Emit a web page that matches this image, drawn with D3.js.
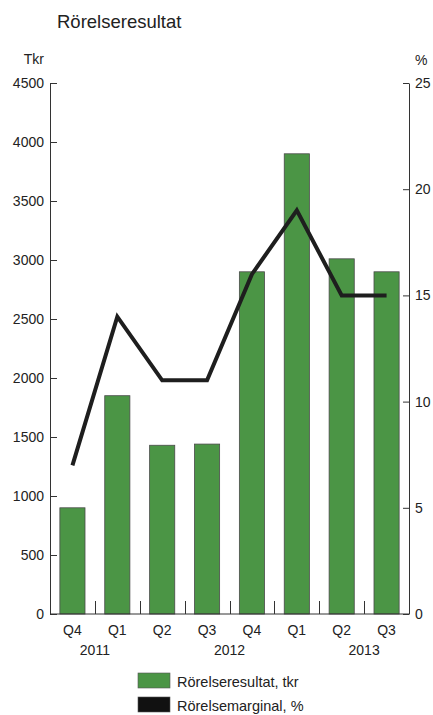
<!DOCTYPE html>
<html>
<head>
  <meta charset="utf-8">
  <title>Rörelseresultat</title>
  <script src="https://d3js.org/d3.v7.min.js"></script>
  <style>
    body { margin: 0; background: #fff; font-family: "Liberation Sans", Arial, sans-serif; }
    svg text { fill: #222; }
    .axis path, .axis line { stroke: #333; }
  </style>
</head>
<body>
<div id="chart"></div>

<script>
// data
const quarters = ["Q4", "Q1", "Q2", "Q3", "Q4", "Q1", "Q2", "Q3"];
const years    = ["2011", "2012", "2012", "2012", "2012", "2013", "2013", "2013"];
const resultat = [900, 1850, 1430, 1440, 2900, 3900, 3010, 2900];   // tkr
const marginal = [7, 14, 11, 11, 16, 19, 15, 15];                     // %
const leftTicks  = [0, 500, 1000, 1500, 2000, 2500, 3000, 3500, 4000, 4500];
const rightTicks = [0, 5, 10, 15, 20, 25];
// year label sits on the boundary in front of this category
const yearLabels = [
  { label: "2011", before: 1 },
  { label: "2012", before: 4 },
  { label: "2013", before: 7 }
];
const legendItems = [
  { label: "Rörelseresultat, tkr", color: "#4b9545" },
  { label: "Rörelsemarginal, %", color: "#111" }
];

const width = 433, height = 715;
const m = { top: 83, right: 24, bottom: 101, left: 50 };

const svg = d3.select("#chart").append("svg")
  .attr("width", width)
  .attr("height", height);

const keys = quarters.map((q, i) => years[i] + " " + q);

const x = d3.scaleBand()
  .domain(keys)
  .range([m.left, width - m.right])
  .paddingInner(0.44)
  .paddingOuter(0.22);

const y = d3.scaleLinear().domain([0, 4500]).range([height - m.bottom, m.top]);
const yR = d3.scaleLinear().domain([0, 25]).range([height - m.bottom, m.top]);

// title
svg.append("text")
  .attr("x", 57).attr("y", 28)
  .attr("font-size", 18.5)
  .text("Rörelseresultat");

svg.append("text")
  .attr("x", m.left - 6).attr("y", 64)
  .attr("text-anchor", "end")
  .attr("font-size", 14)
  .text("Tkr");

svg.append("text")
  .attr("x", width - m.right + 6).attr("y", 65)
  .attr("font-size", 14)
  .text("%");

// bars
svg.append("g")
  .selectAll("rect")
  .data(resultat)
  .join("rect")
    .attr("x", (d, i) => x(keys[i]))
    .attr("y", d => y(d))
    .attr("width", x.bandwidth())
    .attr("height", d => y(0) - y(d))
    .attr("fill", legendItems[0].color)
    .attr("stroke", "#4a4a4a")
    .attr("stroke-width", 0.8);

// axes
const fmt = d3.format("d");
svg.append("g")
  .attr("class", "axis")
  .attr("transform", `translate(${m.left},0)`)
  .call(d3.axisLeft(y).tickValues(leftTicks).tickFormat(fmt).tickSize(-7).tickSizeOuter(0).tickPadding(6))
  .call(g => g.selectAll("text").attr("font-size", 14).attr("fill", "#222").attr("font-family", "Liberation Sans, Arial, sans-serif"));

svg.append("g")
  .attr("class", "axis")
  .attr("transform", `translate(${width - m.right},0)`)
  .call(d3.axisRight(yR).tickValues(rightTicks).tickFormat(fmt).tickSize(-6).tickSizeOuter(0).tickPadding(6))
  .call(g => g.selectAll("text").attr("font-size", 14).attr("fill", "#222").attr("font-family", "Liberation Sans, Arial, sans-serif"));

// baseline and category separators
const base = y(0);
svg.append("line")
  .attr("x1", m.left).attr("x2", width - m.right)
  .attr("y1", base).attr("y2", base)
  .attr("stroke", "#333");

const step = x.step();
const edge = k => x(k) - step * x.paddingInner() / 2;

svg.append("g")
  .selectAll("line")
  .data(keys.slice(1))
  .join("line")
    .attr("x1", d => Math.round(edge(d)) + 0.5).attr("x2", d => Math.round(edge(d)) + 0.5)
    .attr("y1", base).attr("y2", base - 13)
    .attr("stroke", "#333");

svg.append("g")
  .selectAll("text")
  .data(quarters)
  .join("text")
    .attr("x", (d, i) => x(keys[i]) + x.bandwidth() / 2)
    .attr("y", base + 21)
    .attr("text-anchor", "middle")
    .attr("font-size", 14)
    .text(d => d);

svg.append("g")
  .selectAll("text")
  .data(yearLabels)
  .join("text")
    .attr("x", d => edge(keys[d.before]))
    .attr("y", base + 41)
    .attr("text-anchor", "middle")
    .attr("font-size", 14)
    .text(d => d.label);

// margin line
const line = d3.line()
  .x((d, i) => x(keys[i]) + x.bandwidth() / 2)
  .y(d => yR(d));

svg.append("path")
  .datum(marginal)
  .attr("d", line)
  .attr("fill", "none")
  .attr("stroke", "#1e1e1e")
  .attr("stroke-width", 4);

// legend
const lg = svg.append("g")
  .selectAll("g")
  .data(legendItems)
  .join("g")
    .attr("transform", (d, i) => `translate(138,${673 + i * 24})`);

lg.append("rect")
  .attr("width", 32).attr("height", 15)
  .attr("fill", d => d.color)
  .attr("stroke", "#555")
  .attr("stroke-width", 0.6);

lg.append("text")
  .attr("x", 39).attr("y", 14)
  .attr("font-size", 14.5)
  .text(d => d.label);
</script>

</body>
</html>
